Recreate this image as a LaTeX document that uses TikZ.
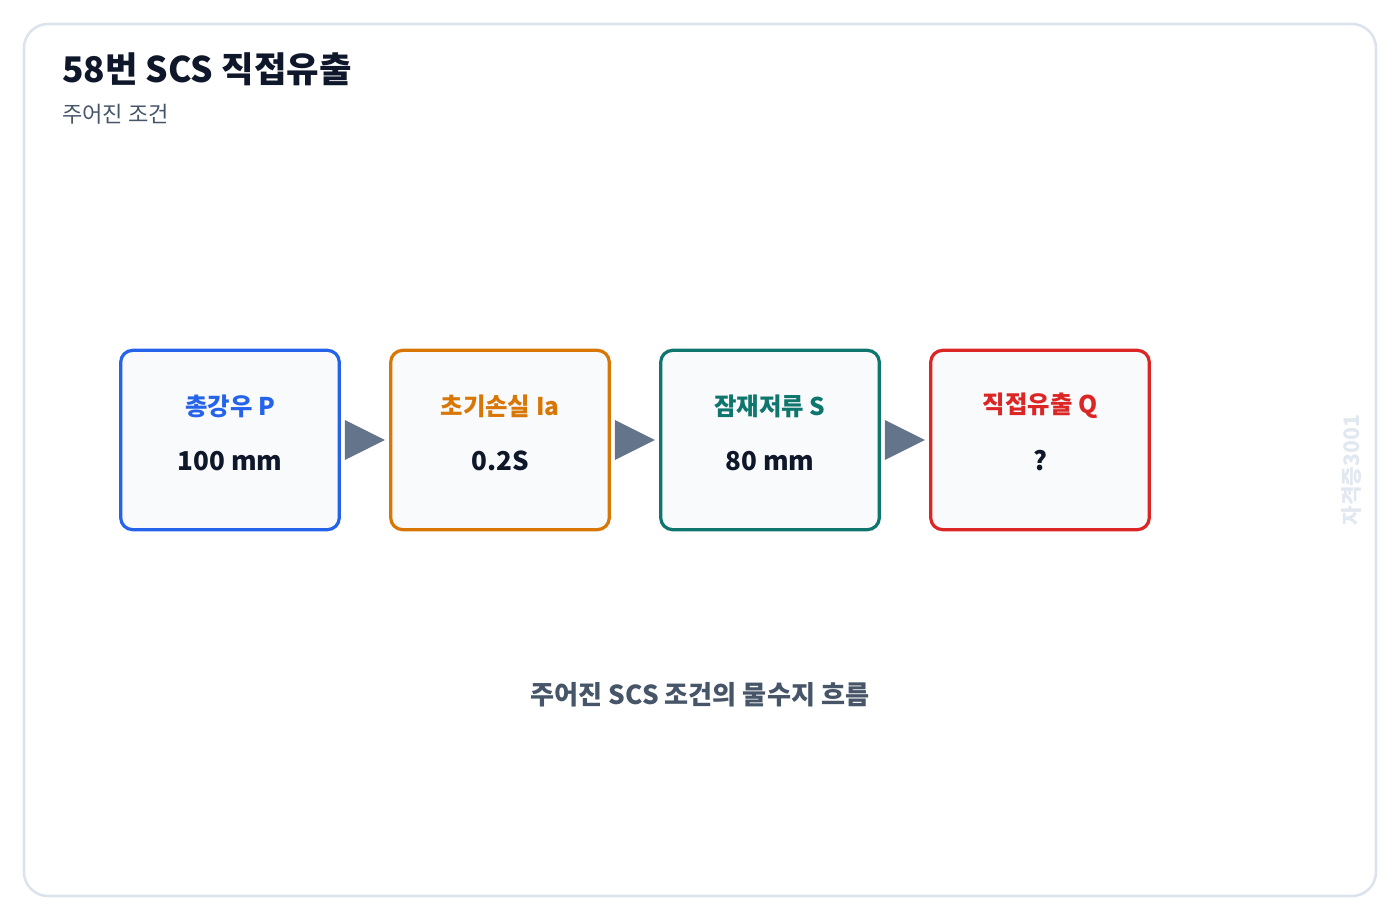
\documentclass[tikz,border=0pt]{standalone}
\usepackage{fontspec}
\setmainfont{Noto Sans CJK KR}
\usepackage{tikz}
\usepackage{xcolor}

\definecolor{titlecol}{HTML}{0F172A}
\definecolor{subcol}{HTML}{475569}
\definecolor{framecol}{HTML}{DCE3EC}
\definecolor{boxfill}{HTML}{F8FAFC}
\definecolor{pblue}{HTML}{2563EB}
\definecolor{iaorange}{HTML}{D97706}
\definecolor{steal}{HTML}{0F766E}
\definecolor{qred}{HTML}{DC2626}
\definecolor{tipgray}{HTML}{64748B}
\definecolor{markcol}{HTML}{E2E8F0}

\tikzset{
  stagebox/.style={draw=#1, line width=2.4pt, rounded corners=9pt, fill=boxfill,
    minimum width=164pt, minimum height=134.5pt, inner sep=0pt},
  stagelabel/.style={inner sep=0.75pt, text=#1, font=\fontsize{18.3}{20}\selectfont\bfseries},
  stagevalue/.style={inner sep=0.75pt, text=titlecol, font=\fontsize{19.5}{22}\selectfont\bfseries},
  flowtip/.style={fill=tipgray}
}

\begin{document}
\begin{tikzpicture}[x=0.75pt,y=0.75pt,yscale=-1,xscale=1]
\useasboundingbox (0,0) rectangle (1400,920);

% outer card
\draw[framecol, line width=1.9pt, rounded corners=18pt] (24,24) rectangle (1376,896);

% heading
\node (title) at (62,83) [anchor=base west][inner sep=0pt][text=titlecol] {\fontsize{26.5}{29}\selectfont\bfseries 58번 SCS 직접유출};
\node (subtitle) at (62,123) [anchor=base west][inner sep=0pt][text=subcol] {\fontsize{16.6}{18}\selectfont 주어진 조건};

% stages
\node (p) at (230,440) [stagebox=pblue] {};
\node (ia) at (500,440) [stagebox=iaorange] {};
\node (s) at (770,440) [stagebox=steal] {};
\node (q) at (1040,440) [stagebox=qred] {};

\node (plabel) at (230,406) [stagelabel=pblue] {총강우 P};
\node (pvalue) at (230,461) [stagevalue] {100 mm};

\node (ialabel) at (500,406) [stagelabel=iaorange] {초기손실 Ia};
\node (iavalue) at (500,461) [stagevalue] {0.2S};

\node (slabel) at (770,406) [stagelabel=steal] {잠재저류 S};
\node (svalue) at (770,461) [stagevalue] {80 mm};

\node (qlabel) at (1040,406) [stagelabel=qred] {직접유출 Q};
\node (qvalue) at (1040,461) [stagevalue] {?};

% flow arrows
\foreach \a in {p,ia,s}
  \fill[flowtip] (\a.east) ++(4,-20) -- ++(40,20) -- ++(-40,20) -- cycle;

% caption
\node (caption) at (700,695) [inner sep=0pt][text=subcol] {\fontsize{19.6}{22}\selectfont\bfseries 주어진 SCS 조건의 물수지 흐름};

% watermark
\node (mark) at (1352,470) [rotate=90][inner sep=0pt][text=markcol] {\fontsize{16}{18}\selectfont\bfseries 자격증3001};
\end{tikzpicture}
\end{document}
